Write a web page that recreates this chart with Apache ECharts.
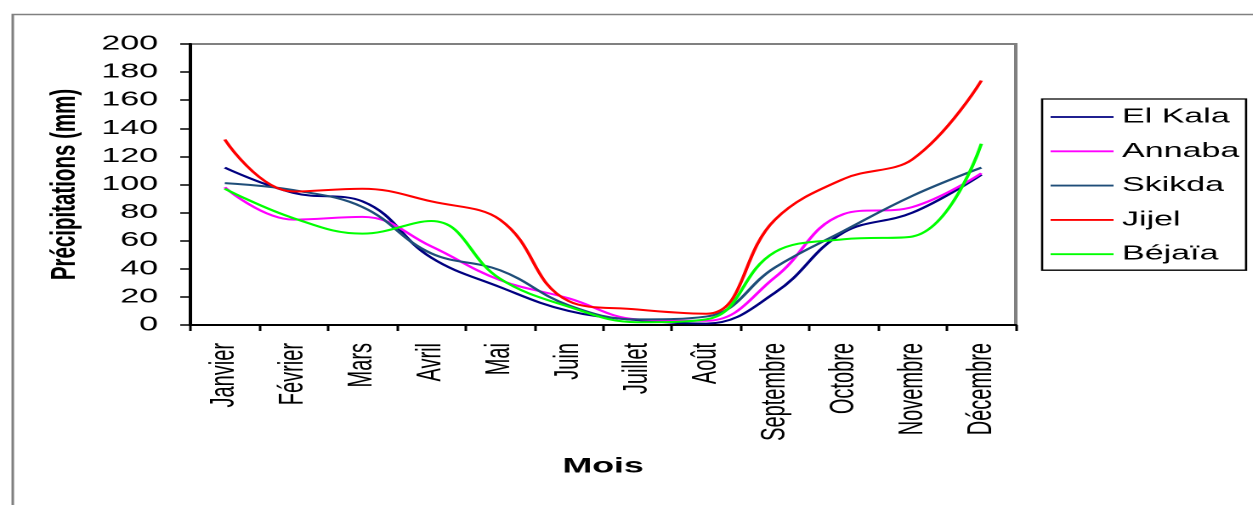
<!DOCTYPE html>
<html>
<head>
<meta charset="utf-8">
<script src="https://cdn.jsdelivr.net/npm/echarts@6/dist/echarts.min.js"></script>
<style>
html,body{margin:0;padding:0;background:#fff;overflow:hidden;}
#wrap{width:1253px;height:505px;overflow:hidden;position:relative;}
#chart{width:737px;height:505px;transform:scaleX(1.7);transform-origin:0 0;}
</style>
</head>
<body>
<div id="wrap"><div id="chart"></div></div>
<script>
const months = ['Janvier','Février','Mars','Avril','Mai','Juin','Juillet','Août','Septembre','Octobre','Novembre','Décembre'];
const elKala = [112, 94, 88, 48, 27, 10, 3.5, 1, 23, 66, 80, 107];
const annaba = [98, 75, 77, 56, 32, 19, 4, 3, 34, 79, 84, 108];
const skikda = [101, 96, 84, 51, 39, 14, 4, 6, 41, 67, 92, 112];
const jijel = [132, 95, 97, 88, 75, 17, 11, 8, 75, 104, 118, 174];
const bejaia = [97, 76, 65, 74, 33, 13, 2, 4, 52, 61, 63, 129];
const seriesNames = ['El Kala','Annaba','Skikda','Jijel','Béjaïa'];
const seriesColors = ['#000080','#ff00ff','#1f4e79','#ff0000','#00ff00'];
const yMin = 0, yMax = 200, yStep = 20;

const FONT = 'Liberation Sans, Arial, sans-serif';
const chart = echarts.init(document.getElementById('chart'), null, {devicePixelRatio: 2});
const allData = [elKala, annaba, skikda, jijel, bejaia];
chart.setOption({
  animation: false,
  backgroundColor: '#fff',
  graphic: [{
    type: 'rect', left: 5, top: 12, z: -10,
    shape: {width: 731, height: 520},
    style: {fill: 'none', stroke: '#808080', lineWidth: 1.5}
  }],
  grid: {left: 112, right: 139.5, top: 44, bottom: 180, show: true, borderColor: '#808080', borderWidth: 2, backgroundColor: 'transparent'},
  legend: {
    orient: 'vertical', left: 613, top: 99,
    data: seriesNames.map((n, i) => ({name: n, icon: 'path://M0,0L100,0L100,5L0,5Z', itemStyle: {color: seriesColors[i]}})),
    itemWidth: 37, itemHeight: 20, itemGap: 14.3,
    symbolKeepAspect: true,
    padding: [8, 4, 6, 5],
    borderColor: '#000', borderWidth: 1.3,
    textStyle: {fontFamily: FONT, fontSize: 20, color: '#000', lineHeight: 20}
  },
  xAxis: {
    type: 'category', data: months, boundaryGap: true,
    axisLine: {lineStyle: {color: '#000', width: 2}},
    axisTick: {show: true, length: 6, lineStyle: {color: '#000', width: 1.5}},
    axisLabel: {rotate: 90, interval: 0, margin: 18, fontFamily: FONT, fontSize: 20, color: '#000'},
    name: 'Mois', nameLocation: 'middle', nameGap: 131,
    nameTextStyle: {fontFamily: FONT, fontSize: 21, fontWeight: 'bold', color: '#000'}
  },
  yAxis: {
    type: 'value', min: yMin, max: yMax, interval: yStep,
    splitLine: {show: false},
    axisLine: {show: true, lineStyle: {color: '#000', width: 2}},
    axisTick: {show: true, length: 6, lineStyle: {color: '#000', width: 1.5}},
    axisLabel: {margin: 19, fontFamily: FONT, fontSize: 20, color: '#000'},
    name: 'Précipitations (mm)', nameLocation: 'middle', nameGap: 62, nameRotate: 90,
    nameTextStyle: {fontFamily: FONT, fontSize: 20.5, fontWeight: 'bold', color: '#000'}
  },
  series: seriesNames.map((n, i) => ({
    name: n, type: 'line', data: allData[i], smooth: 0.4,
    symbol: 'none', showSymbol: false,
    lineStyle: {color: seriesColors[i], width: 2},
    itemStyle: {color: seriesColors[i]}
  }))
});
</script>
</body>
</html>
